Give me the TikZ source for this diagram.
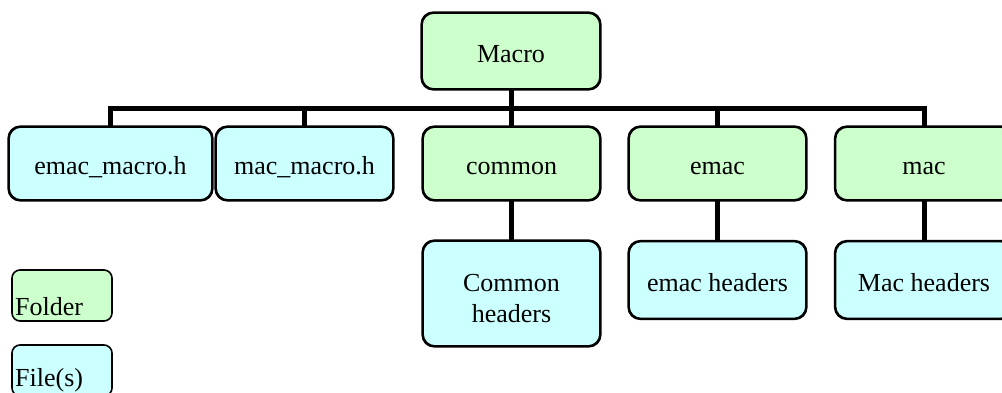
\documentclass[tikz,border=0pt]{standalone}
\usepackage{fontspec}
\setmainfont{Liberation Serif}
\definecolor{fgreen}{HTML}{CCFFCC}
\definecolor{fcyan}{HTML}{CCFFFF}
\begin{document}
\begin{tikzpicture}[x=1pt,y=-1pt,
  box/.style={draw=black,line width=1.6pt,rounded corners=12pt,inner sep=0pt,align=center,
    font=\fontsize{26}{31}\selectfont},
  one/.style={text height=22pt,text depth=0pt},
  folder/.style={box,fill=fgreen},
  file/.style={box,fill=fcyan},
  conn/.style={line width=5pt,black},
  leg/.style={anchor=base west,inner sep=0pt,font=\fontsize{26}{31}\selectfont}]
\useasboundingbox (0,0) rectangle (1002,392);
\clip (0,0) rectangle (1002,392);
\node[folder,one,minimum width=178pt,minimum height=76pt] (macro) at (511,51) {Macro};
\node[file,one,minimum width=203pt,minimum height=73pt] (emh) at (110.5,163.5) {emac\_macro.h};
\node[file,one,minimum width=177pt,minimum height=73pt] (mmh) at (304.5,163.5) {mac\_macro.h};
\node[folder,one,minimum width=177pt,minimum height=73pt] (common) at (511.5,163.5) {common};
\node[folder,one,minimum width=177pt,minimum height=73pt] (emac) at (717.5,163.5) {emac};
\node[folder,one,minimum width=177pt,minimum height=73pt] (mac) at (924,163.5) {mac};
\node[file,minimum width=177pt,minimum height=105pt] (commonh) at (511.5,293.5) {\rule{0pt}{27pt}Common\\headers};
\node[file,one,minimum width=177pt,minimum height=77pt] (emach) at (717.5,280) {emac headers};
\node[file,one,minimum width=177pt,minimum height=77pt] (mach) at (924,280) {Mac headers};
\draw[conn] (macro.south) -- ++(0,19) -| (emh.north);
\draw[conn] (macro.south) -- ++(0,19) -| (mmh.north);
\draw[conn] (macro.south) -- ++(0,19) -| (common.north);
\draw[conn] (macro.south) -- ++(0,19) -| (emac.north);
\draw[conn] (macro.south) -- ++(0,19) -| (mac.north);
\draw[conn] (common.south) -- (commonh.north);
\draw[conn] (emac.south) -- (emach.north);
\draw[conn] (mac.south) -- (mach.north);
% redraw box borders over connector ends
\foreach \n in {macro,emh,mmh,common,emac,mac,commonh,emach,mach}{
  \draw[line width=1.6pt,rounded corners=12pt] (\n.south west) rectangle (\n.north east);
}
% legend
\node[folder,rounded corners=8pt,minimum width=100pt,minimum height=51pt] (legF) at (62,295.5) {};
\node[leg] (legFt) at (15,315) {Folder};
\node[file,rounded corners=8pt,minimum width=100pt,minimum height=51pt] (legE) at (62,370.5) {};
\node[leg] (legEt) at (15,386) {File(s)};
\end{tikzpicture}
\end{document}
